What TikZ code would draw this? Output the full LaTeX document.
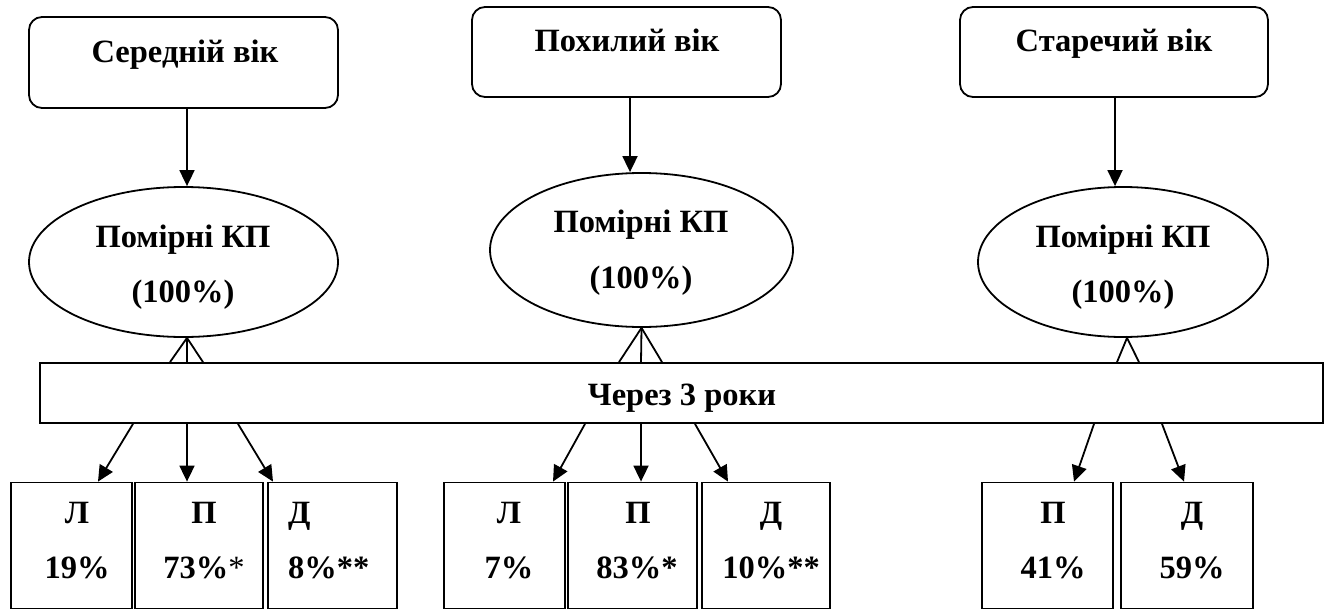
\documentclass[tikz,border=0pt]{standalone}
\usepackage{fontspec}
\setmainfont{Liberation Serif}
\usetikzlibrary{shapes.geometric,arrows.meta}
\begin{document}
\begin{tikzpicture}[x=1pt,y=-1pt,
  lw/.style={line width=1.8pt},
  agebox/.style={draw,lw,rounded corners=13pt,inner sep=0pt},
  oval/.style={draw,lw,ellipse,inner sep=0pt},
  barbox/.style={draw,lw,rectangle,inner sep=0pt},
  resbox/.style={draw,lw,rectangle,inner sep=0pt,minimum height=126pt},
  txt/.style={font=\bfseries\fontsize{32.5}{38}\selectfont,inner sep=0pt,anchor=base},
  arr/.style={lw,-{Triangle[length=16pt,width=15pt]}},
  ln/.style={lw}]
\useasboundingbox (0,0) rectangle (1329,610);
% top boxes
\node[agebox,minimum width=309pt,minimum height=91pt] (t1) at (183.5,62.5) {};
\node[agebox,minimum width=309pt,minimum height=90pt] (t2) at (626.5,52) {};
\node[agebox,minimum width=308pt,minimum height=90pt] (t3) at (1114,52) {};
\node[txt] (t1x) at (185,63) {Середній вік};
\node[txt] (t2x) at (627,52) {Похилий вік};
\node[txt] (t3x) at (1114,52) {Старечий вік};
% ellipses
\node[oval,minimum width=309pt,minimum height=150pt] (e1) at (183.5,262) {};
\node[oval,minimum width=303pt,minimum height=154pt] (e2) at (641.5,250) {};
\node[oval,minimum width=290pt,minimum height=150pt] (e3) at (1123,262) {};
\node[txt] (e1a) at (183,247) {Помірні КП};
\node[txt] (e1b) at (183,302) {(100\%)};
\node[txt] (e2a) at (641,232) {Помірні КП};
\node[txt] (e2b) at (641,288) {(100\%)};
\node[txt] (e3a) at (1123,247) {Помірні КП};
\node[txt] (e3b) at (1123,302) {(100\%)};
% top arrows
\draw[arr] (187,0 |- t1.south) -- (187,0 |- e1.north);
\draw[arr] (630,0 |- t2.south) -- (630,0 |- e2.north);
\draw[arr] (1115,0 |- t3.south) -- (1115,0 |- e3.north);
% bar
\node[barbox,minimum width=1283pt,minimum height=60pt] (bar) at (681.5,393) {};
\node[txt] (barx) at (682,405) {Через 3 роки};
% apex lines
\coordinate (p1) at ([xshift=3.5pt]e1.south);
\coordinate (p2) at (e2.south);
\coordinate (p3) at ([xshift=4pt]e3.south);
\draw[ln] (170,0 |- bar.north) -- (p1) -- (203,0 |- bar.north);
\draw[ln] (p1) -- (187,0 |- bar.north);
\draw[ln] (619,0 |- bar.north) -- (p2) -- (662,0 |- bar.north);
\draw[ln] (p2) -- (641,0 |- bar.north);
\draw[ln] (1117,0 |- bar.north) -- (p3) -- (1139,0 |- bar.north);
% result boxes
\node[resbox,minimum width=121pt] (b1) at (71.5,545.5) {};
\node[resbox,minimum width=128pt] (b2) at (199,545.5) {};
\node[resbox,minimum width=129pt] (b3) at (332.5,545.5) {};
\node[resbox,minimum width=121pt] (m1) at (504.5,545.5) {};
\node[resbox,minimum width=129pt] (m2) at (632.5,545.5) {};
\node[resbox,minimum width=128pt] (m3) at (766,545.5) {};
\node[resbox,minimum width=131pt] (r1) at (1047.5,545.5) {};
\node[resbox,minimum width=132pt] (r2) at (1187,545.5) {};
% result texts
\node[txt] (b1a) at (77,523) {Л};
\node[txt] (b1b) at (77,578) {19\%};
\node[txt] (b2a) at (204,523) {П};
\node[txt] (b2b) at (204,578) {73\%{\mdseries*}};
\node[txt,anchor=base west] (b3a) at (288,523) {Д};
\node[txt,anchor=base west] (b3b) at (288,578) {8\%**};
\node[txt] (m1a) at (509,523) {Л};
\node[txt] (m1b) at (509,578) {7\%};
\node[txt] (m2a) at (638,523) {П};
\node[txt] (m2b) at (637,578) {83\%*};
\node[txt] (m3a) at (771,523) {Д};
\node[txt] (m3b) at (771,578) {10\%**};
\node[txt] (r1a) at (1053,523) {П};
\node[txt] (r1b) at (1053,578) {41\%};
\node[txt] (r2a) at (1192,523) {Д};
\node[txt] (r2b) at (1192,578) {59\%};
% bottom arrows
\draw[arr] (133,0 |- bar.south) -- (98,0 |- b1.north);
\draw[arr] (187,0 |- bar.south) -- (187,0 |- b2.north);
\draw[arr] (238,0 |- bar.south) -- (273,0 |- b3.north);
\draw[arr] (585,0 |- bar.south) -- (553,0 |- m1.north);
\draw[arr] (641,0 |- bar.south) -- (641,0 |- m2.north);
\draw[arr] (695,0 |- bar.south) -- (728,0 |- m3.north);
\draw[arr] (1094,0 |- bar.south) -- (1074,0 |- r1.north);
\draw[arr] (1162,0 |- bar.south) -- (1184,0 |- r2.north);
\end{tikzpicture}
\end{document}
